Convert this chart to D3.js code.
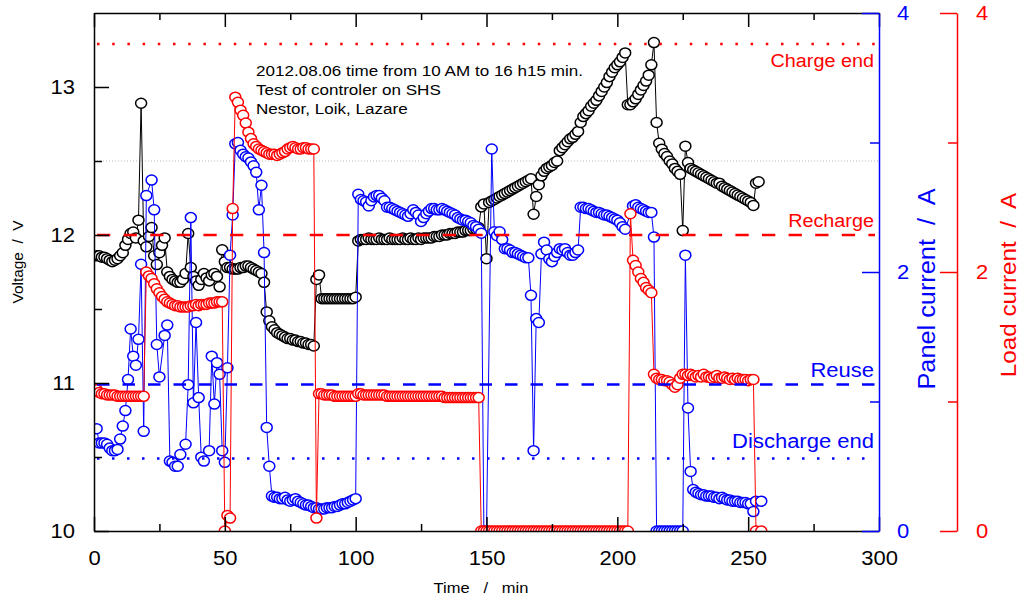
<!DOCTYPE html>
<html>
<head>
<meta charset="utf-8">
<script src="https://cdn.jsdelivr.net/npm/d3@7"></script>
<style>
  body { margin: 0; background: #fff; }
  svg text { font-family: "Liberation Sans", Arial, sans-serif; }
</style>
</head>
<body>
<svg id="chart" width="1020" height="596"></svg>
<script>
  // one reading per minute, null = no reading at that minute
  var minutes = d3.range(1, 256);

  var voltage = [
    11.86, 11.86, 11.85, 11.85, 11.84, 11.83, 11.82, 11.83, 11.84, 11.86,
    11.88, 11.93, 11.97, 12.01, 12.02, 11.98, 12.10, 12.89, 11.96, 11.92,
    11.99, 12.05, 11.86, 11.80, 11.88, 11.93, 11.98, 11.75, 11.72, 11.70,
    11.69, 11.68, 11.68, 11.70, 11.74, 12.01, 11.78, 11.72, 11.69, 11.66,
    11.70, 11.74, 11.71, 11.69, 11.73, 11.74, 11.72, 11.65, 11.90, 11.82,
    11.78, 11.78, 11.77, 11.77, 11.77, 11.78, 11.78, 11.79, 11.79, 11.78,
    11.77, 11.76, 11.75, 11.74, 11.68, 11.48, 11.42, 11.38, 11.36, 11.34,
    11.33, 11.32, 11.31, 11.30, 11.30, 11.29, 11.29, 11.28, 11.28, 11.27,
    11.27, 11.26, 11.26, 11.25, 11.70, 11.73, 11.57, 11.57, 11.57, 11.57,
    11.57, 11.57, 11.57, 11.57, 11.57, 11.57, 11.57, 11.57, 11.57, 11.58,
    11.96, 11.97, 11.97, 11.97, 11.98, 11.97, 11.97, 11.97, 11.98, 11.97,
    11.97, 11.97, 11.98, 11.97, 11.97, 11.97, 11.97, 11.98, 11.97, 11.97,
    11.98, 11.97, 11.97, 11.98, 11.97, 11.98, 11.98, 11.98, 11.98, 11.99,
    11.99, 11.99, 12.00, 12.00, 12.00, 12.01, 12.01, 12.01, 12.02, 12.02,
    12.02, 12.03, 12.03, 12.03, 12.04, 12.04, 12.05, 12.19, 12.21, 11.84,
    12.22, 12.23, 12.24, 12.25, 12.26, 12.27, 12.28, 12.29, 12.30, 12.31,
    12.32, 12.33, 12.34, 12.35, 12.36, 12.37, 12.38, 12.14, 12.26, 12.34,
    12.40, 12.43, 12.45, 12.46, 12.47, 12.49, 12.50, 12.57, 12.59, 12.61,
    12.63, 12.65, 12.66, 12.68, 12.70, 12.76, 12.80, 12.82, 12.84, 12.87,
    12.89, 12.91, 12.94, 12.97, 13.00, 13.03, 13.07, 13.10, 13.13, 13.15,
    13.17, 13.20, 13.23, 12.88, 12.88, 12.90, 12.92, 12.95, 12.98, 13.01,
    13.04, 13.08, 13.15, 13.30, 12.76, 12.62, 12.58, 12.55, 12.53, 12.50,
    12.48, 12.45, 12.43, 12.41, 12.03, 12.60, 12.49, 12.45, 12.44, 12.43,
    12.42, 12.41, 12.40, 12.39, 12.38, 12.37, 12.36, 12.35, 12.35, 12.33,
    12.32, 12.31, 12.30, 12.29, 12.28, 12.27, 12.26, 12.25, 12.24, 12.23,
    12.22, 12.20, 12.35, 12.36, null
  ];

  var panelCurrent = [
    0.79, 0.68, 0.68, 0.68, 0.67, 0.64, 0.62, 0.62, 0.63, 0.71,
    0.81, 0.93, 1.17, 1.56, 1.35, 1.28, 1.48, 2.06, 0.77, 2.59,
    null, 2.71, 2.48, 1.44, 1.19, null, 1.51, 1.59, 0.54, 0.53,
    0.50, 0.50, 0.59, null, 0.67, 1.13, 2.42, 0.99, 1.61, 1.03,
    0.57, 0.54, null, 0.62, 1.35, 0.98, 1.30, 1.21, 0.62, 0.53,
    1.26, 2.13, 2.44, 2.99, 3.00, 2.94, 2.91, 2.89, 2.88, 2.85,
    2.82, 2.77, 2.48, 2.67, 2.15, 0.80, 0.50, 0.27, 0.26, 0.26,
    0.25, 0.25, 0.26, 0.24, 0.23, 0.24, 0.25, 0.23, 0.22, 0.21,
    0.20, 0.20, 0.19, 0.18, 0.18, 0.17, 0.17, 0.17, 0.18, 0.18,
    0.18, 0.19, 0.19, 0.20, 0.21, 0.21, 0.22, 0.23, 0.24, 0.25,
    2.60, 2.56, 2.55, 2.54, 2.51, 2.55, 2.58, 2.59, 2.59, 2.57,
    2.55, 2.50, 2.50, 2.49, 2.48, 2.47, 2.46, 2.45, 2.44, 2.43,
    2.45, 2.48, 2.46, 2.44, 2.39, 2.42, 2.45, 2.47, 2.49, 2.49,
    2.48, 2.48, 2.49, 2.48, 2.47, 2.46, 2.45, 2.44, 2.42, 2.41,
    2.40, 2.40, 2.39, 2.38, 2.36, 2.35, 2.33, 2.30, 0.00, 0.00,
    null, 2.95, 2.31, 2.28, 2.31, 2.25, 2.18, 2.18, 2.17, 2.15,
    2.15, 2.14, 2.13, 2.12, 2.11, 2.11, 1.82, 0.62, 1.64, 1.61,
    2.14, 2.23, 2.17, 2.10, 2.08, 2.12, 2.15, 2.18, 2.17, 2.18,
    2.15, 2.13, 2.13, 2.15, 2.17, 2.50, 2.50, 2.49, 2.49, 2.48,
    2.47, 2.46, 2.46, 2.45, 2.44, 2.44, 2.43, 2.42, 2.41, 2.40,
    2.38, 2.35, 2.33, null, null, 2.51, 2.52, 2.50, 2.49, 2.48,
    2.47, 2.46, 2.46, 2.27, 0.00, 0.00, 0.00, 0.00, 0.00, 0.00,
    0.00, 0.00, 0.00, 0.00, 0.00, 2.13, 0.95, 0.46, 0.32, 0.30,
    0.29, 0.28, 0.28, 0.27, 0.27, 0.27, 0.26, 0.26, 0.25, 0.26,
    0.25, 0.24, 0.24, 0.23, 0.23, 0.23, 0.22, 0.22, 0.22, 0.21,
    0.21, 0.15, 0.23, null, 0.23
  ];

  var loadCurrent = [
    1.09, 1.07, 1.06, 1.06, 1.05, 1.05, 1.05, 1.05, 1.04, 1.04,
    1.04, 1.04, 1.04, 1.04, 1.04, 1.04, 1.04, 1.04, 1.04, 2.00,
    1.97, 1.95, 1.91, 1.87, 1.84, 1.81, 1.79, 1.77, 1.76, 1.75,
    1.74, 1.74, 1.73, 1.73, 1.73, 1.73, 1.74, 1.74, 1.75, 1.74,
    1.75, 1.75, 1.75, 1.76, 1.76, 1.76, 1.77, 1.77, 1.77, 0.00,
    0.12, 0.10, 2.49, 3.35, 3.31, 3.25, 3.21, 3.15, 3.08, 3.03,
    2.99, 2.97, 2.95, 2.94, 2.93, 2.92, 2.91, 2.91, 2.91, 2.90,
    2.91, 2.92, 2.93, 2.95, 2.96, 2.97, 2.96, 2.95, 2.95, 2.96,
    2.96, 2.95, 2.95, 2.95, 0.10, 1.06, 1.06, 1.05, 1.05, 1.05,
    1.05, 1.04, 1.04, 1.04, 1.04, 1.04, 1.04, 1.04, 1.04, 1.04,
    1.06, 1.06, 1.05, 1.05, 1.05, 1.05, 1.05, 1.05, 1.05, 1.05,
    1.05, 1.04, 1.04, 1.04, 1.04, 1.04, 1.04, 1.04, 1.04, 1.04,
    1.04, 1.04, 1.04, 1.04, 1.04, 1.04, 1.04, 1.04, 1.04, 1.04,
    1.04, 1.04, 1.04, 1.03, 1.03, 1.03, 1.03, 1.03, 1.03, 1.03,
    1.03, 1.03, 1.03, 1.03, 1.03, 1.03, 1.03, 0.00, 0.00, 0.00,
    0.00, 0.00, 0.00, 0.00, 0.00, 0.00, 0.00, 0.00, 0.00, 0.00,
    0.00, 0.00, 0.00, 0.00, 0.00, 0.00, 0.00, 0.00, 0.00, 0.00,
    0.00, 0.00, 0.00, 0.00, 0.00, 0.00, 0.00, 0.00, 0.00, 0.00,
    0.00, 0.00, 0.00, 0.00, 0.00, 0.00, 0.00, 0.00, 0.00, 0.00,
    0.00, 0.00, 0.00, 0.00, 0.00, 0.00, 0.00, 0.00, 0.00, 0.00,
    0.00, 0.00, 0.00, 0.00, 2.45, 2.09, 2.05, 2.00, 1.95, 1.92,
    1.88, 1.86, 1.84, 1.21, 1.18, 1.17, 1.17, 1.16, 1.16, 1.15,
    1.13, 1.11, 1.13, 1.18, 1.21, 1.21, 1.20, 1.21, 1.20, 1.19,
    1.20, 1.19, 1.21, 1.19, 1.19, 1.18, 1.19, 1.20, 1.18, 1.18,
    1.19, 1.18, 1.17, 1.18, 1.17, 1.18, 1.17, 1.17, 1.17, 1.16,
    1.17, 1.17, 0.00, null, 0.00
  ];

  var timeTicks = [0, 50, 100, 150, 200, 250, 300];
  var timeMinor = [25, 75, 125, 175, 225, 275];
  var voltTicks = [10, 11, 12, 13];
  var voltMinor = [10.5, 11.5, 12.5];
  var ampTicks = [0, 2, 4];
  var ampMinor = [1, 3];

  // controller thresholds (V)
  var limitNames = ["Charge end", "Recharge", "Reuse", "Discharge end"];
  var limitVolts = [13.29, 12.0, 10.99, 10.49];
  var gridVolt = 12.5;

  var noteLines = [
    "2012.08.06 time from 10 AM to 16 h15 min.",
    "Test of controler on SHS",
    "Nestor, Loik, Lazare"
  ];

  var RED = "#ff0000", BLUE = "#0000ff";
  var limitStyle = {
    "Charge end":    {color: RED,  dash: "2.5,12.7", width: 2.5, dy: 23,  size: 18},
    "Recharge":      {color: RED,  dash: "13.3,13.3", width: 2.5, dy: -8, size: 18},
    "Reuse":         {color: BLUE, dash: "12.5,13", width: 2.5, dy: -7,  size: 20},
    "Discharge end": {color: BLUE, dash: "2.5,12.5", width: 2.5, dy: -10, size: 20}
  };

  var plot = {left: 94, right: 879, top: 13, bottom: 531};
  var svg = d3.select("#chart");

  var x = d3.scaleLinear().domain([0, 300]).range([plot.left, plot.right]);
  var yV = d3.scaleLinear().domain([10, 13.5]).range([plot.bottom, plot.top]);
  var yA = d3.scaleLinear().domain([0, 4]).range([plot.bottom, plot.top]);
  var intFmt = d3.format("d");

  svg.append("defs").append("clipPath").attr("id", "plotClip")
    .append("rect")
    .attr("x", plot.left).attr("y", plot.top)
    .attr("width", plot.right - plot.left).attr("height", plot.bottom - plot.top);

  //灰色点线
  svg.append("line")
    .attr("x1", plot.left).attr("x2", plot.right)
    .attr("y1", yV(gridVolt)).attr("y2", yV(gridVolt))
    .attr("stroke", "#b8b8b8").attr("stroke-width", 1)
    .attr("stroke-dasharray", "1,2");

  var dataLayer = svg.append("g").attr("clip-path", "url(#plotClip)");

  function drawSeries(values, yScale, color) {
    var pts = minutes.map(function(t, i) { return [t, values[i]]; })
      .filter(function(d) { return d[1] != null; });
    var g = dataLayer.append("g");
    g.append("path")
      .datum(pts)
      .attr("d", d3.line()
        .x(function(d) { return x(d[0]); })
        .y(function(d) { return yScale(d[1]); }))
      .attr("fill", "none")
      .attr("stroke", color)
      .attr("stroke-width", 1);
    // markers are slightly wider than tall in the original
    g.selectAll("ellipse")
      .data(pts)
      .enter()
      .append("ellipse")
      .attr("cx", function(d) { return x(d[0]); })
      .attr("cy", function(d) { return yScale(d[1]); })
      .attr("rx", 5.5)
      .attr("ry", 5.0)
      .attr("fill", "#fff")
      .attr("stroke", color)
      .attr("stroke-width", 1.5);
  }

  drawSeries(voltage, yV, "#000");
  drawSeries(panelCurrent, yA, BLUE);
  drawSeries(loadCurrent, yA, RED);

  // threshold lines and their names
  limitNames.forEach(function(name, i) {
    var s = limitStyle[name];
    var yy = yV(limitVolts[i]);
    svg.append("line")
      .attr("x1", plot.left).attr("x2", plot.right - 4)
      .attr("y1", yy).attr("y2", yy)
      .attr("stroke", s.color)
      .attr("stroke-width", s.width)
      .attr("stroke-dasharray", s.dash)
      .attr("stroke-dashoffset", -3);
    svg.append("text")
      .attr("class", "wide")
      .attr("x", 874)
      .attr("y", yy + s.dy)
      .attr("text-anchor", "end")
      .attr("fill", s.color)
      .style("font-size", s.size + "px")
      .text(name);
  });

  //坐标轴
  function styleAxis(g, color, size) {
    g.select(".domain").attr("stroke", color).attr("stroke-width", 1.5);
    g.selectAll(".tick line").attr("stroke", color).attr("stroke-width", 1.5);
    g.selectAll(".tick text").attr("fill", color).attr("class", "wide").style("font-size", size + "px");
  }
  function minorAxis(axis, pos) {
    var g = svg.append("g").attr("transform", pos).call(axis);
    g.select(".domain").remove();
    return g;
  }

  svg.append("g").attr("transform", "translate(0," + plot.bottom + ")")
    .call(d3.axisBottom(x).tickValues(timeTicks).tickFormat(intFmt).tickSize(-14).tickSizeOuter(0).tickPadding(20))
    .call(styleAxis, "#000", 20);
  svg.append("g").attr("transform", "translate(0," + plot.top + ")")
    .call(d3.axisTop(x).tickValues(timeTicks).tickSize(-14).tickSizeOuter(0).tickFormat(""))
    .call(styleAxis, "#000", 20);
  minorAxis(d3.axisBottom(x).tickValues(timeMinor).tickSize(-7).tickFormat(""), "translate(0," + plot.bottom + ")")
    .call(styleAxis, "#000", 20);
  minorAxis(d3.axisTop(x).tickValues(timeMinor).tickSize(-7).tickFormat(""), "translate(0," + plot.top + ")")
    .call(styleAxis, "#000", 20);

  svg.append("g").attr("transform", "translate(" + plot.left + ",0)")
    .call(d3.axisLeft(yV).tickValues(voltTicks).tickFormat(intFmt).tickSize(-15).tickSizeOuter(0).tickPadding(19))
    .call(styleAxis, "#000", 20);
  minorAxis(d3.axisLeft(yV).tickValues(voltMinor).tickSize(-8).tickFormat(""), "translate(" + plot.left + ",0)")
    .call(styleAxis, "#000", 20);

  svg.append("g").attr("transform", "translate(" + plot.right + ",0)")
    .call(d3.axisRight(yA).tickValues(ampTicks).tickFormat(intFmt).tickSize(-17).tickSizeOuter(0).tickPadding(18))
    .call(styleAxis, BLUE, 20);
  minorAxis(d3.axisRight(yA).tickValues(ampMinor).tickSize(-9).tickFormat(""), "translate(" + plot.right + ",0)")
    .call(styleAxis, BLUE, 20);

  svg.append("g").attr("transform", "translate(957,0)")
    .call(d3.axisRight(yA).tickValues(ampTicks).tickFormat(intFmt).tickSize(-17).tickSizeOuter(0).tickPadding(19))
    .call(styleAxis, RED, 20);
  minorAxis(d3.axisRight(yA).tickValues(ampMinor).tickSize(-9).tickFormat(""), "translate(957,0)")
    .call(styleAxis, RED, 20);

  // titles
  svg.append("text").attr("class", "wide")
    .attr("x", 481).attr("y", 593).attr("text-anchor", "middle")
    .style("font-size", "15px").style("white-space", "pre")
    .text("Time   /   min");
  svg.append("text").attr("class", "wide")
    .attr("transform", "translate(23,262) rotate(-90)").attr("text-anchor", "middle")
    .style("font-size", "14px").style("white-space", "pre")
    .text("Voltage  /  V");
  svg.append("text").attr("class", "wide")
    .attr("transform", "translate(935,289) rotate(-90)").attr("text-anchor", "middle")
    .attr("fill", BLUE)
    .style("font-size", "23px").style("white-space", "pre")
    .text("Panel current  /  A");
  svg.append("text").attr("class", "wide")
    .attr("transform", "translate(1016,285) rotate(-90)").attr("text-anchor", "middle")
    .attr("fill", RED)
    .style("font-size", "22px").style("white-space", "pre")
    .text("Load current  /  A");

  svg.selectAll(".note")
    .data(noteLines)
    .enter()
    .append("text")
    .attr("class", "wide note")
    .attr("x", 256)
    .attr("y", function(d, i) { return 76 + i * 18.8; })
    .style("font-size", "15.5px")
    .text(function(d) { return d; });

  // the original lettering is a bit wider than Arial
  svg.selectAll("text.wide").each(function() {
    var w = this.getComputedTextLength();
    d3.select(this).attr("textLength", w * 1.1).attr("lengthAdjust", "spacingAndGlyphs");
  });
</script>
</body>
</html>
